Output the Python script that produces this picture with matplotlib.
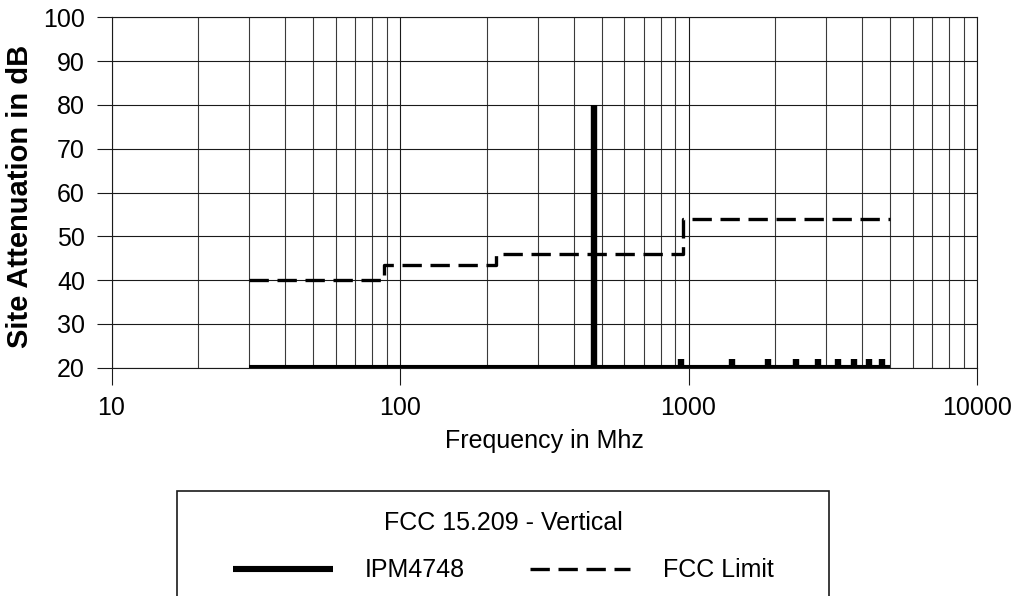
import matplotlib
matplotlib.use("Agg")
import matplotlib.pyplot as plt
from matplotlib.patches import Rectangle
from matplotlib.ticker import FixedLocator, FixedFormatter, NullFormatter

plt.rcParams['font.family'] = ['Liberation Sans', 'DejaVu Sans']

# ---- data ----
# IPM4748 measurement: baseline level over the scanned band, plus peaks
ipm_band = [30, 5000]            # MHz
ipm_base = [20, 20]              # dB
peak_freqs = [470, 940, 1410, 1880, 2350, 2820, 3290, 3760, 4230, 4700]
peak_levels = [80, 22, 22, 22, 22, 22, 22, 22, 22, 22]

# FCC 15.209 limit (step function, value holds until next frequency)
fcc_freqs = [30, 88, 216, 960, 5000]
fcc_levels = [40, 43.5, 46, 54, 54]

x_major = [10, 100, 1000, 10000]
x_major_labels = ["10", "100", "1000", "10000"]
x_minor = [m * d for d in (10, 100, 1000) for m in range(2, 10)]
y_ticks = [20, 30, 40, 50, 60, 70, 80, 90, 100]

W, H = 1019, 596
fig = plt.figure(figsize=(W / 100, H / 100), dpi=100)
ax = fig.add_axes([111.5 / W, 1 - 367.7 / H, (977 - 111.5) / W, (367.7 - 17.3) / H])

ax.set_xscale('log')
ax.set_xlim(10, 10000)
ax.set_ylim(20, 100)

# grid
ax.xaxis.set_major_locator(FixedLocator(x_major))
ax.xaxis.set_major_formatter(FixedFormatter(x_major_labels))
ax.xaxis.set_minor_locator(FixedLocator(x_minor))
ax.xaxis.set_minor_formatter(NullFormatter())
ax.set_yticks(y_ticks)
ax.grid(True, which='major', axis='both', color='#1a1a1a', lw=0.8)
ax.grid(True, which='minor', axis='x', color='#3a3a3a', lw=0.8)
ax.set_axisbelow(True)

ax.tick_params(axis='x', which='major', direction='out', length=12.5, width=0.8,
               labelsize=18, pad=8, color='#1a1a1a')
ax.tick_params(axis='x', which='minor', length=0)
ax.tick_params(axis='y', direction='out', length=11, width=0.8, labelsize=18,
               pad=8, color='#1a1a1a')
for s in ax.spines.values():
    s.set_color('#1a1a1a')
    s.set_linewidth(0.8)

# series
ipm_line, = ax.plot(ipm_band, ipm_base, color='black', lw=4.4,
                    solid_capstyle='butt', label='IPM4748', zorder=4)
ax.vlines(peak_freqs, [ipm_base[0]] * len(peak_freqs), peak_levels,
          colors='black', lw=4.6, capstyle='butt', zorder=4)
fcc_line, = ax.plot(fcc_freqs, fcc_levels, color='black', lw=2.4,
                    drawstyle='steps-post', ls=(0, (5.8, 2.6)),
                    dash_capstyle='butt', label='FCC Limit', zorder=3)

ax.set_xlabel('Frequency in Mhz', fontsize=18, labelpad=6)
ax.set_ylabel('Site Attenuation in dB', fontsize=21, fontweight='bold')
ax.yaxis.set_label_coords(-(111.5 - 34) / (977 - 111.5), 0.49)

# legend box (extends below the figure edge)
fig.patches.append(Rectangle((177 / W, -0.1), (829 - 177) / W, 0.1 + 1 - 491 / H,
                             transform=fig.transFigure, facecolor='white',
                             edgecolor='#1a1a1a', lw=1.2, zorder=1))
leg = fig.legend(handles=[ipm_line, fcc_line], loc='upper center',
                 bbox_to_anchor=(503 / W, 1 - 493 / H), ncol=2, frameon=False,
                 title='FCC 15.209 - Vertical', fontsize=18, title_fontsize=18,
                 handlelength=4.0, handletextpad=1.3, columnspacing=2.6,
                 labelspacing=0.95, borderpad=0.2)
leg.set_zorder(2)

fig.savefig('out.png', dpi=100)
